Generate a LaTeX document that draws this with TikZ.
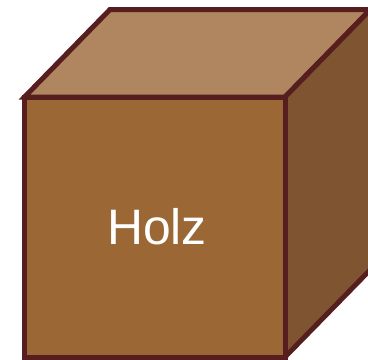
\documentclass[tikz,border=0pt]{standalone}
\usepackage{fontspec}
\setmainfont{Liberation Sans}
\definecolor{frontc}{HTML}{9B6835}
\definecolor{topc}{HTML}{AF8660}
\definecolor{sidec}{HTML}{7E5530}
\definecolor{edgec}{HTML}{561E1E}
\tikzset{face/.style={draw=edgec,line width=5bp,line join=miter}}
\begin{document}
\begin{tikzpicture}[x=1bp,y=-1bp]
\useasboundingbox (0,0) rectangle (368,360);
\clip (0,0) rectangle (368,360);
\coordinate (A) at (24.5,97);
\coordinate (B) at (285,97);
\coordinate (C) at (285,357);
\coordinate (D) at (24.5,357);
\coordinate (E) at (110,9.5);
\coordinate (F) at (370.5,9.5);
\coordinate (G) at (370.5,269.5);
\draw[face,fill=topc] (A) -- (E) -- (F) -- (B) -- cycle;
\draw[face,fill=sidec] (B) -- (F) -- (G) -- (C) -- cycle;
\draw[face,fill=frontc] (A) -- (B) -- (C) -- (D) -- cycle;
\node[text=white,font=\fontsize{50}{58}\selectfont,inner sep=0pt] (label) at (157,226.5) {Holz};
\end{tikzpicture}
\end{document}
